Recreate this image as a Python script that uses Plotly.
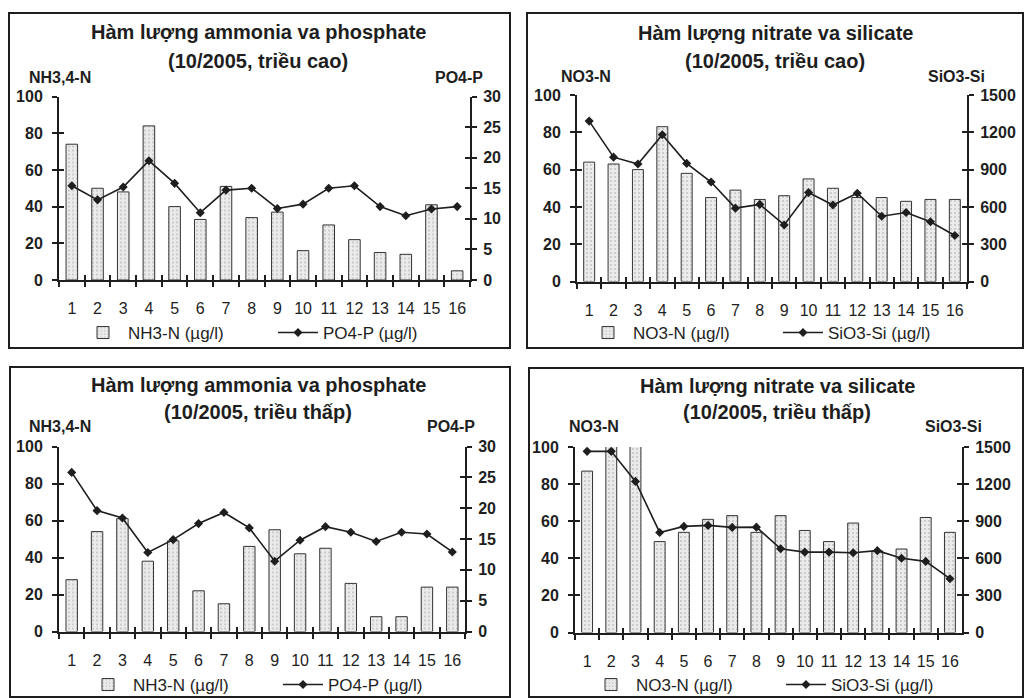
import plotly.graph_objects as go

# ---------------- data ----------------
stations = ["1", "2", "3", "4", "5", "6", "7", "8", "9", "10", "11", "12", "13", "14", "15", "16"]

# Panel 1: triều cao - ammonia / phosphate
nh3_cao = [74, 50, 48, 84, 40, 33, 51, 34, 37, 16, 30, 22, 15, 14, 41, 5]
po4_cao = [15.4, 13.1, 15.2, 19.5, 15.8, 11.0, 14.7, 15.0, 11.7, 12.4, 15.0, 15.4, 12.0, 10.5, 11.6, 12.0]

# Panel 2: triều cao - nitrate / silicate
no3_cao = [64, 63, 60, 83, 58, 45, 49, 44, 46, 55, 50, 45, 45, 43, 44, 44]
sio3_cao = [1290, 1000, 945, 1180, 950, 800, 590, 620, 455, 715, 615, 710, 525, 555, 480, 370]

# Panel 3: triều thấp - ammonia / phosphate
nh3_thap = [28, 54, 61, 38, 49, 22, 15, 46, 55, 42, 45, 26, 8, 8, 24, 24]
po4_thap = [25.8, 19.6, 18.4, 12.8, 14.9, 17.5, 19.3, 16.8, 11.4, 14.8, 17.0, 16.1, 14.6, 16.1, 15.8, 12.9]

# Panel 4: triều thấp - nitrate / silicate (stations 2 and 3 exceed the axis)
no3_thap = [87, 110, 110, 49, 54, 61, 63, 54, 63, 55, 49, 59, 44, 45, 62, 54]
sio3_thap = [1465, 1465, 1222, 809, 858, 866, 850, 852, 677, 650, 650, 645, 662, 601, 575, 435]

titles1 = ["Hàm lượng ammonia va phosphate", "Hàm lượng nitrate va silicate",
           "Hàm lượng ammonia va phosphate", "Hàm lượng nitrate va silicate"]
titles2 = ["(10/2005, triều cao)", "(10/2005, triều cao)",
           "(10/2005, triều thấp)", "(10/2005, triều thấp)"]
left_names = ["NH3,4-N", "NO3-N", "NH3,4-N", "NO3-N"]
right_names = ["PO4-P", "SiO3-Si", "PO4-P", "SiO3-Si"]
bar_names = ["NH3-N (µg/l)", "NO3-N (µg/l)", "NH3-N (µg/l)", "NO3-N (µg/l)"]
line_names = ["PO4-P (µg/l)", "SiO3-Si (µg/l)", "PO4-P (µg/l)", "SiO3-Si (µg/l)"]
left_ticks = [0, 20, 40, 60, 80, 100]
po4_ticks = [0, 5, 10, 15, 20, 25, 30]
sio3_ticks = [0, 300, 600, 900, 1200, 1500]

bars = [nh3_cao, no3_cao, nh3_thap, no3_thap]
lines = [po4_cao, sio3_cao, po4_thap, sio3_thap]
right_ticks = [po4_ticks, sio3_ticks, po4_ticks, sio3_ticks]

# ---------------- layout geometry (pixels) ----------------
W, H = 1025, 698
FONT = "Liberation Sans, Arial, sans-serif"
INK = "#1e1e1e"


def px(x):
    return x / W


def py(y):
    return 1 - y / H


# plot areas: (left, right, top, bottom)
areas = [(59, 470, 96.5, 280), (577, 967, 95, 281.5),
         (59, 465, 446.5, 631.5), (575, 962, 447, 632.5)]
# panel boxes
boxes = [(9, 13, 510, 348), (527, 13, 1023, 348), (10, 367, 510, 697), (529, 368, 1023, 697)]
title_cx = [258, 775, 258, 777]
title_y1 = [32, 33, 385, 386]
title_y2 = [61, 61, 412, 412]
lname_x = [27, 559, 27, 567]
rname_x = [485, 987, 477, 984]
name_y = [77, 76, 426, 426]
legend_x = [78, 583, 83, 586]
legend_y = [333, 333, 685, 685]

fig = go.Figure()
annotations = []
shapes = []
layout = {}

for i in range(4):
    xa = "x" if i == 0 else f"x{i + 1}"
    yl_n = 2 * i + 1
    yr_n = 2 * i + 2
    yl = "y" if yl_n == 1 else f"y{yl_n}"
    yr = f"y{yr_n}"
    leg = "legend" if i == 0 else f"legend{i + 1}"
    xin = f"x{5 + i}"
    yin_l = f"y{9 + 2 * i}"
    yin_r = f"y{10 + 2 * i}"

    fig.add_trace(go.Bar(
        x=stations, y=bars[i], name=bar_names[i], xaxis=xa, yaxis=yl,
        marker=dict(color="#ebebeb", line=dict(color="#333333", width=1),
                    pattern=dict(shape=".", fgcolor="#9a9a9a", size=4, solidity=0.2)),
        legend=leg, showlegend=True,
    ))
    fig.add_trace(go.Scatter(
        x=stations, y=lines[i], name=line_names[i], xaxis=xa, yaxis=yr,
        mode="lines+markers", line=dict(color=INK, width=1.6),
        marker=dict(symbol="diamond", size=7, color=INK),
        cliponaxis=False, legend=leg, showlegend=True,
    ))
    # empty helper traces so the overlay axes (inner halves of the crossing ticks) are drawn
    for yy in (yin_l, yin_r):
        fig.add_trace(go.Scatter(x=[], y=[], xaxis=xin, yaxis=yy, mode="markers",
                                 showlegend=False, hoverinfo="skip"))

    l, r, t, b = areas[i]
    xkey = "xaxis" if i == 0 else f"xaxis{i + 1}"
    ylkey = "yaxis" if yl_n == 1 else f"yaxis{yl_n}"
    yrkey = f"yaxis{yr_n}"
    common_tick = dict(tickwidth=2, tickcolor=INK, showgrid=False, zeroline=False,
                       automargin=False, fixedrange=True)
    layout[xkey] = dict(
        domain=[px(l), px(r)], anchor=yl, type="category",
        categoryorder="array", categoryarray=stations, range=[-0.5, 15.5],
        tickson="boundaries", ticks="outside", ticklen=5,
        showline=True, linewidth=2, linecolor=INK, tickangle=0,
        ticklabelstandoff=13, tickfont=dict(family=FONT, size=16, color=INK),
        **common_tick,
    )
    layout[ylkey] = dict(
        domain=[py(b), py(t)], anchor=xa, range=[0, 100], tickmode="array",
        tickvals=left_ticks, ticks="outside", ticklen=5,
        showline=True, linewidth=2, linecolor=INK, ticklabelstandoff=6,
        tickfont=dict(family=FONT, size=16, color=INK, weight="bold"),
        **common_tick,
    )
    layout[yrkey] = dict(
        domain=[py(b), py(t)], anchor=xa, overlaying=yl, side="right",
        range=[0, right_ticks[i][-1]], tickmode="array", tickvals=right_ticks[i],
        ticks="outside", ticklen=5,
        showline=True, linewidth=2, linecolor=INK, ticklabelstandoff=3,
        tickfont=dict(family=FONT, size=16, color=INK, weight="bold"),
        **common_tick,
    )
    layout[f"xaxis{5 + i}"] = dict(
        domain=[px(l), px(r)], anchor=yl, overlaying=xa, side="bottom", type="linear",
        range=[-0.5, 15.5], tickmode="linear", tick0=-0.5, dtick=1,
        ticks="inside", ticklen=5, showticklabels=False, showline=False,
        **common_tick,
    )
    layout[f"yaxis{9 + 2 * i}"] = dict(
        domain=[py(b), py(t)], anchor=xa, overlaying=yl, side="left", type="linear",
        range=[0, 100], tickmode="array", tickvals=left_ticks,
        ticks="inside", ticklen=5, showticklabels=False, showline=False,
        **common_tick,
    )
    layout[f"yaxis{10 + 2 * i}"] = dict(
        domain=[py(b), py(t)], anchor=xa, overlaying=yl, side="right", type="linear",
        range=[0, right_ticks[i][-1]], tickmode="array", tickvals=right_ticks[i],
        ticks="inside", ticklen=5, showticklabels=False, showline=False,
        **common_tick,
    )
    layout[leg] = dict(
        orientation="h", x=px(legend_x[i]), y=py(legend_y[i]), xanchor="left", yanchor="middle",
        font=dict(family=FONT, size=17, color=INK), bgcolor="rgba(0,0,0,0)",
        entrywidth=140, entrywidthmode="pixels", itemwidth=40, tracegroupgap=0,
    )

    annotations += [
        dict(text=titles1[i], x=px(title_cx[i]), y=py(title_y1[i]), xref="paper", yref="paper",
             showarrow=False, xanchor="center", yanchor="middle",
             font=dict(family=FONT, size=20, color=INK, weight="bold")),
        dict(text=titles2[i], x=px(title_cx[i]), y=py(title_y2[i]), xref="paper", yref="paper",
             showarrow=False, xanchor="center", yanchor="middle",
             font=dict(family=FONT, size=20, color=INK, weight="bold")),
        dict(text=left_names[i], x=px(lname_x[i]), y=py(name_y[i]), xref="paper", yref="paper",
             showarrow=False, xanchor="left", yanchor="middle",
             font=dict(family=FONT, size=16, color=INK, weight="bold")),
        dict(text=right_names[i], x=px(rname_x[i]), y=py(name_y[i]), xref="paper", yref="paper",
             showarrow=False, xanchor="right", yanchor="middle",
             font=dict(family=FONT, size=16, color=INK, weight="bold")),
    ]
    bx0, by0, bx1, by1 = boxes[i]
    shapes.append(dict(type="rect", xref="paper", yref="paper",
                       x0=px(bx0), x1=px(bx1), y0=py(by1), y1=py(by0),
                       line=dict(color=INK, width=2)))

fig.update_layout(
    width=W, height=H, margin=dict(l=0, r=0, t=0, b=0, autoexpand=False),
    paper_bgcolor="white", plot_bgcolor="white",
    bargap=0.55, annotations=annotations, shapes=shapes,
    font=dict(family=FONT, color=INK),
    **layout,
)

fig.write_html("out.html", config={"displayModeBar": False},
               post_script="document.body.style.margin='0';")
